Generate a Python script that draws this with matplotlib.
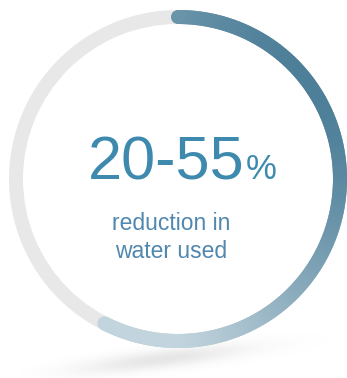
import numpy as np
import matplotlib
matplotlib.use("Agg")
import matplotlib.pyplot as plt
from matplotlib.patches import Wedge, Circle
from matplotlib.colors import to_rgb

# ---- data ----
fraction = 0.575          # share of the ring that is filled
value_label = "20-55"
unit_label = "%"
caption_lines = ["reduction in", "water used"]

# ---- style ----
W, H = 347, 378
cx, cy = 178, 179
r_out, ring_w = 169, 14
track_color = "#e8e8e8"
dark = np.array(to_rgb("#4e7f99"))
light = np.array(to_rgb("#c2d4dd"))
big_color = "#3e8aaf"
small_color = "#5087af"

fig = plt.figure(figsize=(W / 100, H / 100), dpi=100)
ax = fig.add_axes([0, 0, 1, 1])
ax.set_xlim(0, W)
ax.set_ylim(H, 0)
ax.set_aspect("equal")
ax.axis("off")

# shadow
yy, xx = np.mgrid[0:H, 0:W]
ang = np.deg2rad(-7)
u = (xx - 150) * np.cos(ang) + (yy - 360) * np.sin(ang)
v = -(xx - 150) * np.sin(ang) + (yy - 360) * np.cos(ang)
alpha = 0.24 * np.exp(-(u / 90) ** 2 - (v / 9) ** 2)
alpha *= np.clip((xx - 15) / 170, 0, 1) ** 0.5
img = np.zeros((H, W, 4))
img[..., :3] = 0.55
img[..., 3] = alpha
ax.imshow(img, extent=(0, W, H, 0), zorder=0, interpolation="bilinear")
ax.add_patch(Circle((cx, cy), r_out - 1, facecolor="white", edgecolor="none", zorder=1))

# track ring
ax.add_patch(Wedge((cx, cy), r_out, 0, 360, width=ring_w, facecolor=track_color,
                   edgecolor="none", zorder=2))

rc = r_out - ring_w / 2
d = np.array([-0.8, 0.6])
def color_at(theta_cw):
    t = np.deg2rad(theta_cw)
    px, py = np.sin(t), -np.cos(t)
    s = px * d[0] + py * d[1]
    s = np.clip((s + 0.99) / (0.6 + 0.99), 0, 1)
    return dark + (light - dark) * s

span = fraction * 360
n = 300
edges = np.linspace(0, span, n + 1)
for a0, a1 in zip(edges[:-1], edges[1:]):
    c = color_at((a0 + a1) / 2)
    ax.add_patch(Wedge((cx, cy), r_out, a0 - 90 - 0.3, a1 - 90 + 0.3, width=ring_w,
                       facecolor=c, edgecolor="none", zorder=3))
for a in (0, span):
    t = np.deg2rad(a)
    ax.add_patch(Circle((cx + rc * np.sin(t), cy - rc * np.cos(t)), ring_w / 2,
                        facecolor=color_at(a), edgecolor="none", zorder=3))

family = ["Liberation Sans", "DejaVu Sans"]
big = ax.text(88, 179, value_label, fontsize=44, color=big_color, family=family,
              ha="left", va="baseline", zorder=5)
fig.canvas.draw()
bb = big.get_window_extent(fig.canvas.get_renderer())
x_unit = ax.transData.inverted().transform((bb.x1 + 1, 0))[0]
ax.text(x_unit, 179, unit_label, fontsize=25, color=big_color, family=family,
        ha="left", va="baseline", zorder=5)
ax.text(171, 230, caption_lines[0], fontsize=16.5, color=small_color, family=family,
        ha="center", va="baseline", zorder=5)
ax.text(171, 258, caption_lines[1], fontsize=16.5, color=small_color, family=family,
        ha="center", va="baseline", zorder=5)

fig.savefig("out.png", dpi=100)
